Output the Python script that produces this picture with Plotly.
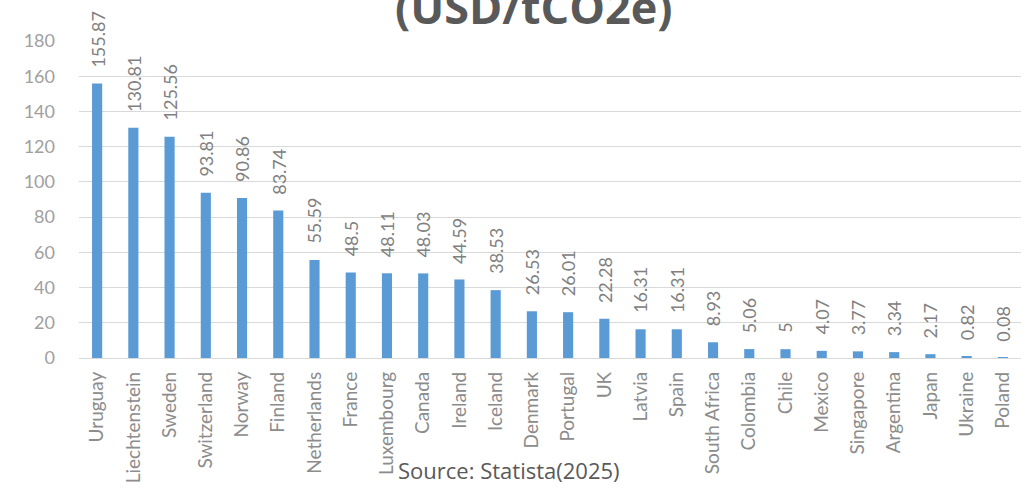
import plotly.graph_objects as go

# Carbon price by country (USD/tCO2e)
countries = ["Uruguay", "Liechtenstein", "Sweden", "Switzerland", "Norway", "Finland",
             "Netherlands", "France", "Luxembourg", "Canada", "Ireland", "Iceland",
             "Denmark", "Portugal", "UK", "Latvia", "Spain", "South Africa",
             "Colombia", "Chile", "Mexico", "Singapore", "Argentina", "Japan",
             "Ukraine", "Poland"]
prices = [155.87, 130.81, 125.56, 93.81, 90.86, 83.74,
          55.59, 48.5, 48.11, 48.03, 44.59, 38.53,
          26.53, 26.01, 22.28, 16.31, 16.31, 8.93,
          5.06, 5, 4.07, 3.77, 3.34, 2.17,
          0.82, 0.08]
y_ticks = [0, 20, 40, 60, 80, 100, 120, 140, 160, 180]

label_font = "Lato, 'Noto Sans', sans-serif"

fig = go.Figure(go.Bar(
    x=countries,
    y=prices,
    marker=dict(color="#5B9BD5", line=dict(width=0)),
    hoverinfo="x+y",
))

# Value labels, rotated and lifted a little above each bar
value_labels = [
    dict(x=c, y=v, xref="x", yref="y", text=f"{v:g}",
         textangle=-90, xanchor="center", yanchor="bottom", yshift=14,
         showarrow=False,
         font=dict(family=label_font, size=18, color="#808080"))
    for c, v in zip(countries, prices)
]

fig.update_layout(
    width=1028, height=495,
    margin=dict(l=79, r=7, t=41, b=137),
    paper_bgcolor="white", plot_bgcolor="white",
    bargap=0.72,
    showlegend=False,
    xaxis=dict(
        tickangle=-90,
        tickfont=dict(family=label_font, size=19, color="#8C8C8C"),
        showgrid=False, showline=False, ticks="",
        ticklabelstandoff=9,
    ),
    yaxis=dict(
        range=[0, 180],
        tickvals=y_ticks,
        tickfont=dict(family=label_font, size=18, color="#A0A0A0"),
        showgrid=True, gridcolor="#D9D9D9", gridwidth=1,
        zeroline=True, zerolinecolor="#D9D9D9", zerolinewidth=1,
        showline=False, ticks="",
        ticklabelstandoff=23,
    ),
    annotations=value_labels + [
        dict(text="<b>(USD/tCO2e)</b>", xref="paper", yref="paper",
             x=0.4825, y=1.11, xanchor="center", yanchor="middle",
             showarrow=False,
             font=dict(family="'Open Sans', sans-serif", size=45, color="#595959")),
        dict(text="Source: Statista(2025)", xref="paper", yref="paper",
             x=0.4565, y=-0.353, xanchor="center", yanchor="middle",
             showarrow=False,
             font=dict(family="'Open Sans', sans-serif", size=22, color="#595959")),
    ],
)

fig.write_html("out.html")
